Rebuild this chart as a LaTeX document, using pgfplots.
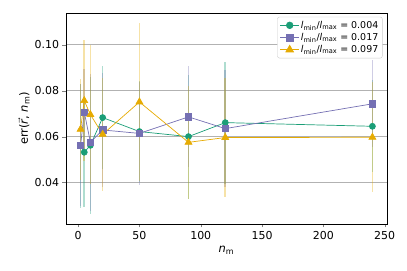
\documentclass[border=0pt]{standalone}
\usepackage{pgfplots}
\pgfplotsset{compat=1.18}
\usepackage{fontspec}
\setmainfont{DejaVu Sans}
\definecolor{cg}{HTML}{1B9E77}
\definecolor{cp}{HTML}{7570B3}
\definecolor{cy}{HTML}{E6AB02}
\pgfplotstableread{
x y e
2 0.0560 0.027
5 0.0532 0.024
10 0.0562 0.030
20 0.0683 0.0226
50 0.0622 0.022
90 0.0600 0.027
120 0.0661 0.0266
240 0.0645 0.020
}\green
\pgfplotstableread{
x y e
2 0.0562 0.0266
5 0.0707 0.019
10 0.0575 0.030
20 0.0629 0.025
50 0.0614 0.0223
90 0.0686 0.022
120 0.0635 0.0255
240 0.0743 0.019
}\purple
\pgfplotstableread{
x y e
2 0.0632 0.022
5 0.0757 0.0265
10 0.0696 0.0304
20 0.0610 0.0245
50 0.0751 0.0346
90 0.0575 0.0245
120 0.0596 0.026
240 0.0597 0.024
}\yellow
\begin{document}
\begin{tikzpicture}
\begin{axis}[
 name=ax,
 width=321bp, height=211bp, scale only axis,
 xmin=-9.9, xmax=251.9, ymin=0.0219, ymax=0.1139,
 xtick={0,50,...,250}, ytick={0.04,0.06,0.08,0.10},
 y tick label style={/pgf/number format/.cd, fixed, fixed zerofill, precision=2},
 /pgf/number format/assume math mode=true,
 scaled y ticks=false,
 tick label style={font=\fontsize{11}{13}\selectfont},
 label style={font=\fontsize{11.5}{13}\selectfont},
 tick align=outside, tick pos=left,
 major tick length=3.5bp,
 ymajorgrids, grid style={color=black!30, line width=0.8bp},
 axis line style={line width=0.8bp},
 xlabel={\textit{n}\textsubscript{m}},
 ylabel={err($\vec{\mbox{\itshape r}}$, \textit{n}\textsubscript{m})},
 xlabel style={yshift=0bp},
 ylabel style={yshift=-2bp},
 legend style={at={(0.986,0.982)}, anchor=north east, draw=black!20, rounded corners=2bp,
   font=\fontsize{9.5}{11}\selectfont, inner sep=2.5bp, row sep=0.5bp,
   nodes={inner sep=1.5bp}},
 legend image post style={scale=1.1},
 legend cell align=left,
 error bars/y dir=both, error bars/y explicit,
 error bars/error mark=none,
]
\addplot[cg, line width=0.7bp, mark=*, mark size=3bp,
  error bars/error bar style={line width=1.6bp, opacity=0.35, solid}]
  table[x=x, y=y, y error=e] {\green};
\addlegendentry{\textit{l}\textsubscript{min}/\textit{l}\textsubscript{max} = 0.004}
\addplot[cp, line width=0.7bp, mark=square*, mark size=3.2bp,
  error bars/error bar style={line width=1.6bp, opacity=0.35, solid}]
  table[x=x, y=y, y error=e] {\purple};
\addlegendentry{\textit{l}\textsubscript{min}/\textit{l}\textsubscript{max} = 0.017}
\addplot[cy, line width=0.7bp, mark=triangle*, mark size=4bp,
  error bars/error bar style={line width=1.6bp, opacity=0.35, solid}]
  table[x=x, y=y, y error=e] {\yellow};
\addlegendentry{\textit{l}\textsubscript{min}/\textit{l}\textsubscript{max} = 0.097}
\end{axis}
\pgfresetboundingbox
\path ([xshift=-66bp,yshift=-47bp]ax.south west) rectangle ([xshift=20bp,yshift=13bp]ax.north east);
\end{tikzpicture}
\end{document}
